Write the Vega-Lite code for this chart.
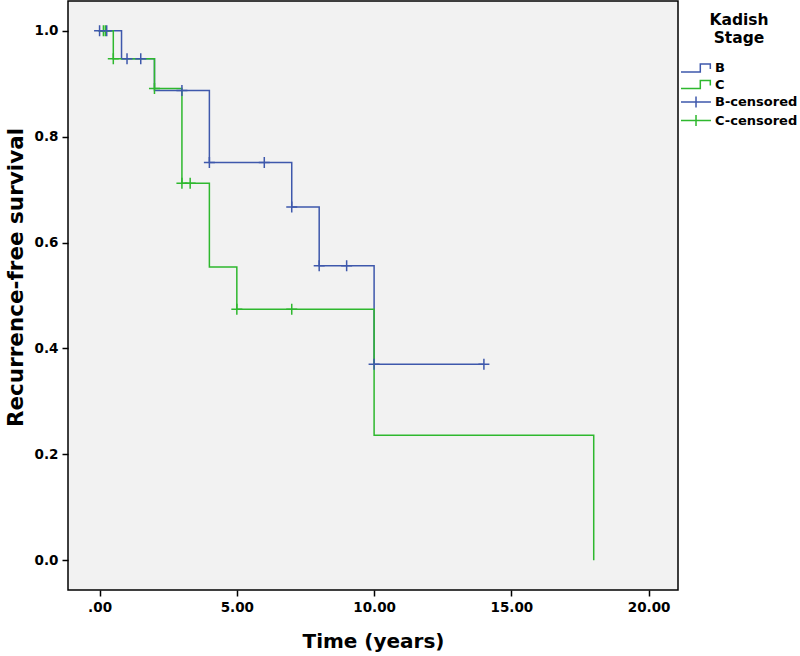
{
  "$schema": "https://vega.github.io/schema/vega-lite/v6.json",
  "width": 610,
  "height": 589,
  "autosize": {"type": "none"},
  "padding": {"left": 68, "top": 1, "right": 122, "bottom": 66},
  "background": "white",
  "config": {
    "view": {"fill": "#f2f2f2", "stroke": "black", "strokeWidth": 1.5},
    "font": "DejaVu Sans",
    "axis": {
      "grid": false,
      "domain": false,
      "tickColor": "black",
      "tickSize": 6,
      "tickWidth": 1.5,
      "labelColor": "black",
      "labelFont": "DejaVu Sans",
      "labelFontWeight": "bold",
      "labelFontSize": 13.5,
      "labelPadding": 4,
      "titleColor": "black",
      "titleFont": "DejaVu Sans",
      "titleFontWeight": "bold",
      "titleFontSize": 20
    }
  },
  "data": {
    "values": [
      {"series": "B", "kind": "event", "time": 0, "surv": 1.0},
      {"series": "B", "kind": "event", "time": 0.8, "surv": 0.947},
      {"series": "B", "kind": "event", "time": 2, "surv": 0.887},
      {"series": "B", "kind": "event", "time": 4, "surv": 0.751},
      {"series": "B", "kind": "event", "time": 7, "surv": 0.667},
      {"series": "B", "kind": "event", "time": 8, "surv": 0.556},
      {"series": "B", "kind": "event", "time": 10, "surv": 0.37},
      {"series": "B", "kind": "event", "time": 14, "surv": 0.37},
      {"series": "C", "kind": "event", "time": 0, "surv": 1.0},
      {"series": "C", "kind": "event", "time": 0.5, "surv": 0.947},
      {"series": "C", "kind": "event", "time": 2, "surv": 0.891},
      {"series": "C", "kind": "event", "time": 3, "surv": 0.712},
      {"series": "C", "kind": "event", "time": 4, "surv": 0.554},
      {"series": "C", "kind": "event", "time": 5, "surv": 0.474},
      {"series": "C", "kind": "event", "time": 10, "surv": 0.236},
      {"series": "C", "kind": "event", "time": 18, "surv": 0.0},
      {"series": "C-censored", "kind": "censor", "time": 0.14, "surv": 1.0},
      {"series": "C-censored", "kind": "censor", "time": 0.21, "surv": 1.0},
      {"series": "C-censored", "kind": "censor", "time": 0.5, "surv": 0.947},
      {"series": "C-censored", "kind": "censor", "time": 2, "surv": 0.891},
      {"series": "C-censored", "kind": "censor", "time": 3, "surv": 0.712},
      {"series": "C-censored", "kind": "censor", "time": 3.3, "surv": 0.712},
      {"series": "C-censored", "kind": "censor", "time": 5, "surv": 0.474},
      {"series": "C-censored", "kind": "censor", "time": 7, "surv": 0.474},
      {"series": "B-censored", "kind": "censor", "time": 0, "surv": 1.0},
      {"series": "B-censored", "kind": "censor", "time": 0.26, "surv": 1.0},
      {"series": "B-censored", "kind": "censor", "time": 1.0, "surv": 0.947},
      {"series": "B-censored", "kind": "censor", "time": 1.5, "surv": 0.947},
      {"series": "B-censored", "kind": "censor", "time": 3, "surv": 0.887},
      {"series": "B-censored", "kind": "censor", "time": 4, "surv": 0.751},
      {"series": "B-censored", "kind": "censor", "time": 6, "surv": 0.751},
      {"series": "B-censored", "kind": "censor", "time": 7, "surv": 0.667},
      {"series": "B-censored", "kind": "censor", "time": 8, "surv": 0.556},
      {"series": "B-censored", "kind": "censor", "time": 9, "surv": 0.556},
      {"series": "B-censored", "kind": "censor", "time": 10, "surv": 0.37},
      {"series": "B-censored", "kind": "censor", "time": 14, "surv": 0.37}
    ]
  },
  "layer": [
    {
      "transform": [{"filter": "datum.kind === 'event'"}],
      "mark": {"type": "line", "interpolate": "step-after", "strokeWidth": 1.5},
      "encoding": {
        "x": {
          "field": "time", "type": "quantitative",
          "scale": {"domain": [-1.15, 21.07], "nice": false, "zero": false},
          "axis": {"values": [0, 5, 10, 15, 20], "labelExpr": "datum.value == 0 ? '.00' : format(datum.value, '.2f')", "title": "Time (years)", "titlePadding": 18}
        },
        "y": {
          "field": "surv", "type": "quantitative",
          "scale": {"domain": [-0.056, 1.056], "nice": false, "zero": false},
          "axis": {"values": [0, 0.2, 0.4, 0.6, 0.8, 1.0], "format": ".1f", "title": "Recurrence-free survival", "titleFontSize": 21.5, "titlePadding": 7, "titleY": 276}
        },
        "color": {
          "field": "series", "type": "nominal",
          "scale": {"domain": ["B", "C", "B-censored", "C-censored"], "range": ["#3E58AC", "#2EB82E", "#3E58AC", "#2EB82E"]},
          "legend": {
            "title": ["Kadish", "Stage"],
            "orient": "none",
            "legendX": 612,
            "legendY": 12,
            "titleFont": "DejaVu Sans",
            "titleFontSize": 15.5,
            "titleFontWeight": "bold",
            "titleColor": "black",
            "titleAlign": "center",
            "titleAnchor": "middle",
            "titleLineHeight": 18,
            "titlePadding": 15,
            "labelFont": "DejaVu Sans",
            "labelFontSize": 13,
            "labelFontWeight": "bold",
            "labelColor": "black",
            "labelOffset": 22,
            "symbolSize": 121,
            "symbolStrokeWidth": 1.5,
            "rowPadding": 1.5,
            "encode": {
              "symbols": {
                "update": {
                  "shape": {"signal": "(datum.value == 'B' || datum.value == 'C') ? 'M-1,0.73L2.51,0.73L2.51,-0.73L4.33,-0.73L4.33,0.18' : 'M-1,0L4.45,0M1.73,-1L1.73,1'"},
                  "fill": {"value": "transparent"},
                  "strokeWidth": {"value": 1.5}
                }
              }
            }
          }
        }
      }
    },
    {
      "transform": [{"filter": "datum.kind === 'censor'"}],
      "mark": {"type": "point", "shape": "M-1,0L1,0M0,-1L0,1", "size": 121, "filled": false, "strokeWidth": 1.5, "opacity": 1},
      "encoding": {
        "x": {"field": "time", "type": "quantitative"},
        "y": {"field": "surv", "type": "quantitative"},
        "color": {"field": "series", "type": "nominal"}
      }
    }
  ]
}
